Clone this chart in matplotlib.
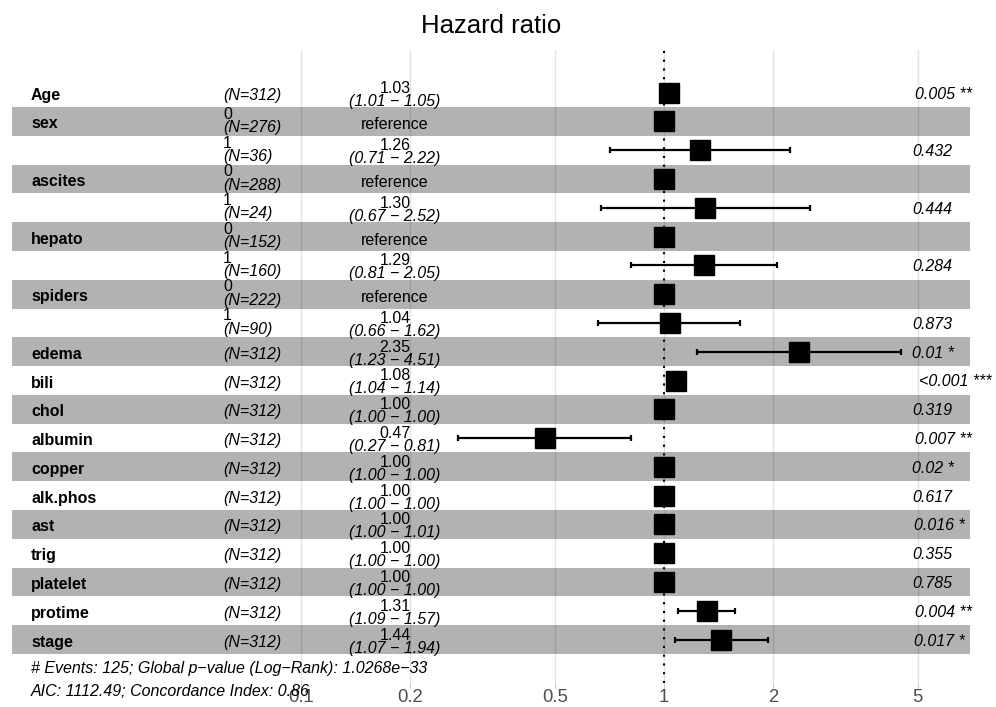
import matplotlib
matplotlib.use('Agg')
import matplotlib.pyplot as plt
import matplotlib.transforms as mtransforms
from matplotlib.ticker import NullLocator

plt.rcParams['font.family'] = ['Liberation Sans', 'DejaVu Sans']

# one entry per row of the forest plot, top to bottom
var_names = ['Age', 'sex', '', 'ascites', '', 'hepato', '', 'spiders', '',
             'edema', 'bili', 'chol', 'albumin', 'copper', 'alk.phos', 'ast',
             'trig', 'platelet', 'protime', 'stage']
levels = ['', '0', '1', '0', '1', '0', '1', '0', '1',
          '', '', '', '', '', '', '', '', '', '', '']
n_obs = [312, 276, 36, 288, 24, 152, 160, 222, 90,
         312, 312, 312, 312, 312, 312, 312, 312, 312, 312, 312]
hr = [1.03, 1.00, 1.26, 1.00, 1.30, 1.00, 1.29, 1.00, 1.04,
      2.35, 1.08, 1.00, 0.47, 1.00, 1.00, 1.00, 1.00, 1.00, 1.31, 1.44]
ci_low = [1.01, None, 0.71, None, 0.67, None, 0.81, None, 0.66,
          1.23, 1.04, 1.00, 0.27, 1.00, 1.00, 1.00, 1.00, 1.00, 1.09, 1.07]
ci_high = [1.05, None, 2.22, None, 2.52, None, 2.05, None, 1.62,
           4.51, 1.14, 1.00, 0.81, 1.00, 1.00, 1.01, 1.00, 1.00, 1.57, 1.94]
p_labels = ['0.005 **', '', '0.432', '', '0.444', '', '0.284', '', '0.873',
            '0.01 *', '<0.001 ***', '0.319', '0.007 **', '0.02 *', '0.617',
            '0.016 *', '0.355', '0.785', '0.004 **', '0.017 *']

x_ticks = [0.1, 0.2, 0.5, 1, 2, 5]
x_tick_labels = ['0.1', '0.2', '0.5', '1', '2', '5']

note1 = '# Events: 125; Global p\u2212value (Log\u2212Rank): 1.0268e\u221233'
note2 = 'AIC: 1112.49; Concordance Index: 0.86'

W, H = 996, 707
fig = plt.figure(figsize=(W / 100, H / 100), dpi=100)
px_left, px_right, px_top, px_bottom = 12, 970, 50, 683
ax = fig.add_axes([px_left / W, 1 - px_bottom / H,
                   (px_right - px_left) / W, (px_bottom - px_top) / H])

# log x axis: 1 sits at pixel 664, one decade is 363 px
ax.set_xscale('log')
ax.set_xlim(10 ** ((px_left - 664) / 363), 10 ** ((px_right - 664) / 363))

row_h = 28.78
row0 = 92.7
ax.set_ylim((px_bottom - row0) / row_h, (px_top - row0) / row_h)

rows = list(range(len(var_names)))

for i in rows:
    if i % 2 == 1:
        ax.axhspan(i - 0.5, i + 0.5, color='black', alpha=0.3, lw=0, zorder=1)

ax.grid(axis='x', color='#e3e3e3', lw=1.0)
ax.set_axisbelow(True)
ax.axvline(1, color='black', lw=1.5, linestyle=(0, (1, 3.2)), zorder=2)

is_ref = [lo is None for lo in ci_low]
eb_y = [r for r in rows if not is_ref[r]]
eb_x = [hr[r] for r in eb_y]
eb_err = [[hr[r] - ci_low[r] for r in eb_y], [ci_high[r] - hr[r] for r in eb_y]]
ax.errorbar(eb_x, eb_y, xerr=eb_err, fmt='none', ecolor='black',
            elinewidth=1.6, capsize=2.5, capthick=1.6, zorder=3)
ax.plot(hr, rows, 's', ms=13.7, color='black', mec='black', zorder=4)

ax.set_xticks(x_ticks)
ax.set_xticklabels(x_tick_labels)
ax.xaxis.set_minor_locator(NullLocator())
ax.tick_params(axis='x', labelsize=13.3, labelcolor='#4d4d4d', color='#c8c8c8',
               length=3.6, width=0.8, pad=1)
ax.set_yticks([])
for s in ax.spines.values():
    s.set_visible(False)

trans = mtransforms.blended_transform_factory(ax.transAxes, ax.transData)


def fx(px):
    return (px - px_left) / (px_right - px_left)


def dy(px):
    return px / row_h


fs = 11.5
x_name, x_n, x_est, x_p = fx(31), fx(223), fx(395), fx(904)
renderer = fig.canvas.get_renderer()

for i in rows:
    if var_names[i]:
        ax.text(x_name, i + dy(7), var_names[i], transform=trans, ha='left',
                va='baseline', fontsize=fs, fontweight='bold')
    n_txt = '(N=%d)' % n_obs[i]
    if levels[i]:
        ax.text(x_n, i - dy(2.7), levels[i], transform=trans, ha='left',
                va='baseline', fontsize=fs)
        ax.text(x_n, i + dy(10.6), n_txt, transform=trans, ha='left',
                va='baseline', fontsize=fs, style='italic')
    else:
        ax.text(x_n, i + dy(7), n_txt, transform=trans, ha='left',
                va='baseline', fontsize=fs, style='italic')
    if is_ref[i]:
        ax.text(x_est, i + dy(8), 'reference', transform=trans, ha='center',
                va='baseline', fontsize=fs)
    else:
        ax.text(x_est, i + dy(0), '%.2f' % hr[i], transform=trans, ha='center',
                va='baseline', fontsize=fs)
        ax.text(x_est, i + dy(13), '(%.2f \u2212 %.2f)' % (ci_low[i], ci_high[i]),
                transform=trans, ha='center', va='baseline', fontsize=fs,
                style='italic')
    if p_labels[i]:
        t = ax.text(x_p, i + dy(6), p_labels[i], transform=trans, ha='left',
                    va='baseline', fontsize=fs, style='italic')
        w = t.get_window_extent(renderer).width
        t.set_x(x_p + 0.2 * w / (px_right - px_left))

fig.text(491 / W, 1 - 33 / H, 'Hazard ratio', ha='center', va='baseline',
         fontsize=18.5)
fig.text(31 / W, 1 - 672.7 / H, note1, ha='left', va='baseline', fontsize=fs,
         style='italic')
fig.text(31 / W, 1 - 696 / H, note2, ha='left', va='baseline', fontsize=fs,
         style='italic')

fig.savefig('out.png', dpi=100)
